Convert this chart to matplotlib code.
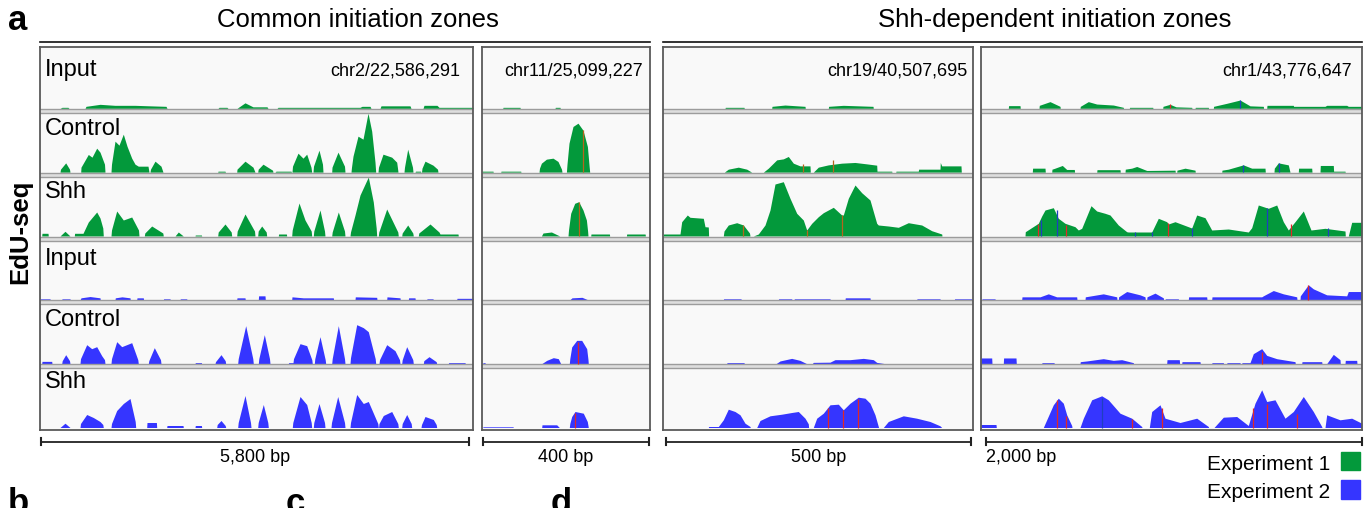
import numpy as np
import matplotlib.pyplot as plt
from matplotlib.lines import Line2D
from matplotlib.patches import Rectangle

plt.rcParams['font.family'] = ['Liberation Sans', 'DejaVu Sans']

W, H = 1371, 508

# ---- panel / track metadata ----
LOCI = ['chr2/22,586,291', 'chr11/25,099,227', 'chr19/40,507,695', 'chr1/43,776,647']
BIN_BP = [13.55, 2.41, 1.64, 5.32]        # bp per coverage bin
N_BINS = [433, 168, 310, 381]             # bins shown per window
SCALE_BP = [5800, 400, 500, 2000]
SCALE_LABELS = ['5,800 bp', '400 bp', '500 bp', '2,000 bp']
TRACKS = ['Input', 'Control', 'Shh', 'Input', 'Control', 'Shh']
GROUPS = ['Common initiation zones', 'Shh-dependent initiation zones']
EXPERIMENTS = ['Experiment 1', 'Experiment 2']

# ---- coverage profiles: (bin, read depth) ----
# window 1 : chr2
C1_IN1 = [(20,0),(22,1),(28,1),(29,0),(45,0),(46,2),(60,4),(75,3),(95,3),(110,2.5),(126,2),(127,0),
          (178,0),(179,1),(187,1),(188,0),(197,0),(205,5.5),(213,1.5),(227,1.5),(228,0),(237,0),(238,1),
          (320,1),(322,2),(330,2),(331,0),(340,0),(341,2.5),(370,2.5),(371,0),(383,0),(384,3),(397,3),
          (399,1),(433,1)]
C1_CT1 = [(20,0),(20.5,3),(25.7,9.3),(29.5,3),(30,0),
          (40.7,0),(41,5),(48.3,17.7),(52,15),(56.7,24),(60,20),(64.5,8),(65,0),
          (71,0),(71.5,8),(75,31),(79,27),(83.3,38),(87,26),(91.7,14),(95,8),(98.3,6),(108,6),(109,0),
          (110,0),(110.5,3),(115,11),(121,6),(123,0),(177.7,0),(178,1),(185,1),(185.5,0),
          (196.7,0),(197,3),(205,11),(213,5),(215,0),(217.7,0),(218.2,3),(223,8),(232.5,2),(233,0),
          (235,0),(236,1),(251,1),(251.5,0),(252,0),(252.5,6),(258,19),(263,14),(266.7,18),(271,5),(271.7,0),
          (273,0),(273.5,6),(279,22),(282.5,8),(283,0),(291.7,0),(292,5),(298,20),(304.5,6),(305,0),
          (311,0),(311.5,5),(313,16),(318,36),(323,33),(328,59),(331.7,41),(335,10),(335.7,0),
          (338,0),(338.5,5),(343,18),(351.7,15),(356.7,10),(357.5,4),(358,0),
          (364,0),(364.5,5),(367.7,23),(372.5,5),(373,0),
          (375,0),(375.5,1),(380.5,1),(381,0),(381.5,0),(382,4),(385,11),(393,7),(397.5,3),(398,0)]
C1_SH1 = [(1.7,0),(2,2.7),(8,2.7),(8.3,0),(20,0),(25,4.7),(30,0),
          (34.3,0),(34.6,2.7),(43,2.7),(48.3,14),(56.7,24),(60,18),(62.8,8),(63.3,0),
          (71,0),(71.5,6),(76.7,25),(83.3,16),(91.7,19),(98.5,6),(99,0),
          (104.3,0),(104.8,3),(111.7,10),(122.8,3),(123.3,0),
          (135,0),(138.3,4),(143.3,0),(155,0),(155.3,1),(161.4,1),(161.7,0),
          (177.7,0),(178.2,4),(185,12),(191.2,4),(191.7,0),(196.7,0),(197.2,5),(205,22),(214.5,5),(215,0),
          (217.7,0),(218.2,5),(221.7,10),(226.2,4),(226.7,0),
          (238.3,0),(238.6,2),(246.4,2),(246.7,0),(251.7,0),(252.2,6),(259,33),(265,16),(271.2,5),(271.7,0),
          (273.3,0),(273.8,5),(280,26),(284.5,5),(285,0),(291.7,0),(292.2,4),(298.3,24),(304.5,5),(305,0),
          (310,0),(310.5,4),(315,21),(320,41),(328.3,59),(333.3,34),(336.2,8),(336.7,0),
          (338.3,0),(338.8,4),(346.7,27),(357.8,4),(358.3,0),(361.7,0),(362.2,3),(367.7,11),(372.8,3),(373.3,0),
          (378.3,0),(378.8,3),(390,12),(399,4),(400,2),(418,2),(418.3,0)]
C1_IN2 = [(0,1),(10,1),(10.3,0),(21.7,0),(22,1),(30,1),(30.3,0),
          (40,0),(41,2),(50,3.3),(60,2),(60.3,0),(75,0),(75.3,2),(82,3),(90,2),(90.3,0),
          (96.7,0),(97,2),(103.3,2),(103.6,0),(123.3,0),(123.6,1),(130,1),(130.3,0),
          (140,0),(140.3,1),(146.7,1),(147,0),(196.7,0),(197,2),(205,2),(205.3,0),
          (218.3,0),(218.6,4),(225,4),(225.3,0),(251.7,0),(252,3),(263.3,2),(293.3,2),(293.6,0),
          (315,0),(315.3,3),(336.7,2.5),(337,0),(346.7,0),(347,3),(360,2),(360.3,0),
          (368.3,0),(368.6,2),(375,2),(375.3,0),(386.7,0),(387,1),(393,1),(393.3,0),
          (416.7,0),(417,1.5),(433,1.5)]
C1_CT2 = [(1.7,0),(2,2.3),(11.7,2.3),(12,0),(21.7,0),(22.2,3),(25.7,9),(29.5,3),(30,0),
          (40,0),(40.5,5),(46.7,19),(51.7,15),(56.7,17),(61.7,8),(64.5,4),(65,0),
          (71,0),(71.5,5),(76.7,22),(81.7,17),(91.7,21),(97.8,4),(98.3,0),
          (108.3,0),(108.8,3),(114.3,16),(120.5,4),(121,0),
          (155,0),(155.3,1),(161.4,1),(161.7,0),(175,0),(175.5,2),(181,9),(185.2,3),(185.7,0),
          (197.7,0),(198.2,5),(205.7,38),(212.8,5),(213.3,0),(218.3,0),(218.8,5),(224.3,29),(229.5,5),(230,0),
          (248.3,0),(248.6,1),(253,1),(253.5,5),(260,20),(266.7,18),(271.8,4),(272.3,0),
          (274.3,0),(274.8,5),(280,27),(285.2,4),(285.7,0),(291.7,0),(292.2,5),(298.3,38),(304.5,5),(305,0),
          (310,0),(310.5,6),(316.7,39),(323.3,36),(328.3,32),(335.2,5),(335.7,0),
          (339,0),(339.5,4),(346.7,19),(355,13),(359.5,4),(360,0),(361.7,0),(362.2,4),(366.7,17),(372.8,4),(373.3,0),
          (383.3,0),(383.8,3),(389,7),(396.2,2),(396.7,0),(408.3,0),(408.6,1),(425,1),(425.3,0)]
C1_SH2 = [(20,0),(25,4.3),(30,0),(40,0),(40.5,4),(46.7,13),(53.3,10),(60,6),(62.8,3),(63.3,0),
          (71,0),(71.5,4),(76.7,17),(83.3,24),(90,29),(95.2,6),(95.7,0),(106.7,0),(107,5),(116.4,5),(116.7,0),
          (126.7,0),(127,2),(143,2),(143.3,0),(155,0),(155.3,2),(161.4,2),(161.7,0),
          (176.7,0),(177.2,3),(181,7),(185.2,2),(185.7,0),(197.7,0),(198.2,5),(205,32),(210.5,5),(211,0),
          (217.7,0),(218.2,5),(223.3,23),(227.8,5),(228.3,0),
          (252.3,0),(252.8,5),(260,31),(266.7,23),(271.2,5),(271.7,0),(273.3,0),(273.8,5),(279,24),(284.5,5),(285,0),
          (291,0),(291.5,5),(297.7,31),(304.5,5),(305,0),
          (310,0),(310.5,5),(316.7,33),(323.3,24),(328.3,26),(337.8,4),(338.3,0),
          (338.6,0),(339,4),(343.3,12),(351.7,16),(357.8,4),(358.3,0),(361.7,0),(362.2,4),(366.7,13),(371.2,4),(371.7,0),
          (381,0),(381.5,3),(385,11),(393.3,8),(396.2,3),(396.7,0)]

# window 2 : chr11
C2_IN1 = [(20.7,0),(21,1),(38,1),(38.3,0),(73,0),(73.3,1),(78,1),(78.3,0)]
C2_CT1 = [(0,1),(11,1),(11.3,0),(18.7,0),(19,1),(38.7,1),(39,0),
          (57,0),(57.5,4),(59.4,9),(64.4,13),(71,14),(76,10.7),(79.5,3),(80,0),
          (84.4,0),(85,8),(87,29),(91,45.7),(96,49),(101,42),(105.4,25.7),(107.2,5),(107.7,0)]
C2_SH1 = [(59.4,0),(61,3),(69.4,4),(77.7,0),
          (86,0),(86.5,6),(88.7,22.7),(92.7,32.7),(96.7,34.3),(101,26),(104.4,16),(105.6,5),(106,0),
          (108.7,0),(109,2),(127.4,2),(127.7,0),(144.4,0),(144.7,2),(163.1,2),(163.4,0)]
C2_IN2 = [(87.7,0),(90,2),(100,2.5),(106,0)]
C2_CT2 = [(0.7,0),(1,1),(3,1),(3.3,0),(59.7,0),(64.7,3.3),(71.3,6),(76.3,5),(78.7,0),
          (87.3,0),(87.8,5),(89.7,16.7),(94.7,23.3),(99.7,23.3),(104.7,15),(106,4),(106.3,0)]
C2_SH2 = [(0.7,0),(1,0.7),(31,0.7),(31.3,0),(59.7,0),(60,2.7),(74.7,2.7),(77.3,0),
          (87.3,0),(87.8,4),(89.7,11),(93,16),(101.3,14.3),(105.3,6),(106.3,0)]

# window 3 : chr19
C3_IN1 = [(62,0),(62.3,1),(81,1),(81.3,0),(108.7,0),(109,2),(122,3.3),(142,2),(142.3,0),
          (165.3,0),(165.6,2),(180.3,3),(210,2),(210.3,0)]
C3_CT1 = [(61.3,0),(65.3,3),(75.3,5),(83.7,3),(88.7,0),
          (100.3,0),(105.3,4),(113.7,12.3),(120.3,13.3),(125.3,15.7),(130.3,9),(137,6.3),(147,6.3),(147.3,0),
          (150.3,0),(155.3,5),(165.3,7.3),(178.7,9),(192,9.7),(203.7,8.3),(213.7,7),(214,1),(228.7,1),(229,0),
          (232.7,0),(233,1),(255.3,1),(255.6,3),(277,3),(277.3,9.7),(278.7,6.3),(298,6.3),(298.3,0)]
C3_SH1 = [(0.3,0),(0.6,2),(17,2),(18.7,14.3),(24.3,21),(27,18.7),(40.3,17.7),(42,9.3),(45.3,9),(45.6,0),
          (60.3,0),(61,5),(65.3,11),(73.7,13.3),(80.3,11),(86.5,3),(87,0),
          (90.3,0),(95.3,2),(102,11),(107,26),(112,52),(120.3,54.3),(127,37.7),(133.7,22.7),(140.3,16),(143.7,6),
          (148.7,12.7),(155.3,19.3),(160.3,23.3),(170.3,28.7),(178.7,21),(180.3,21),
          (185.3,37.7),(192,51),(198.7,43.3),(207,36),(213.7,12.7),(215.3,11),
          (225.3,10),(235.3,8.7),(245.3,13.3),(258.7,11),(268.7,5.3),(278.7,2),(279,0)]
C3_IN2 = [(60.3,0),(60.6,1),(78,1),(78.3,0),(115.3,0),(115.6,1),(128.7,1),(129,0),
          (131,0),(131.3,1),(167,1),(167.3,0),(182,0),(182.3,2),(207,2),(207.3,0),
          (253.7,0),(254,1),(277,1),(277.3,0),(291.3,0),(291.6,1),(308.7,1),(309,0)]
C3_CT2 = [(63.7,0),(64,1),(81,1),(81.3,0),(113,0),(117,2.7),(128.7,5.3),(137,3.3),(143.7,0),
          (149.3,0),(150.3,1.3),(167,1.5),(172,4),(187,4),(200.3,5.3),(210.3,4),(213.7,1.3),(222,0)]
C3_SH2 = [(45.3,0),(45.6,1),(55.3,1),(60.3,7.7),(65.3,18.3),(72,16),(77,12.7),(82,4.3),(87,1),(87.3,0),
          (93.7,0),(97,7),(107,11.7),(118.7,13.3),(128.7,15),(135.3,16),(142,9.3),(145.3,3.7),(145.6,0),
          (150.3,0),(153.7,9.3),(160.3,14.3),(167,22.7),(175.3,23.3),(180.3,17.7),
          (187,24.3),(195.3,30.3),(202,29.3),(207,24.3),(212,12.7),(215.3,1),(215.6,0),
          (220.3,0),(225.3,6),(240.3,11.7),(253.7,9.3),(267,6),(277,1.7),(278.7,0)]

# window 4 : chr1
C4_IN1 = [(27.3,0),(27.6,2.7),(39,2.7),(39.3,0),(58,0),(58.3,3),(69,6.7),(79,2),(79.3,0),
          (99,0),(99.3,2),(107.3,6.7),(115.7,4.3),(132.3,3.3),(142.3,1),(142.6,0),
          (148.3,0),(148.6,1),(171.7,1),(172,0),(181.7,0),(182,2),(189,4),(195,1.5),(210.7,1),(211,0),
          (214,0),(214.3,1),(227.3,1),(227.6,0),
          (232.3,0),(232.6,2),(245.7,5),(259,8.3),(269,2.5),(282.3,2),(282.6,0),
          (285.7,0),(286,3),(312.3,3),(312.6,2),(344,2),(345.7,3),(365.7,3),(367.3,2),(380.7,2)]
C4_CT1 = [(51.3,0),(51.6,4),(64,4),(64.3,0),(70.7,0),(71,3),(74,4),(81.3,6.7),(85.7,2.7),(93.3,2.7),(93.6,0),
          (115.7,0),(116,2.5),(139,2.5),(139.3,0),
          (144,0),(144.3,3),(150.7,4),(155.7,5.7),(165.7,1.7),(167.3,1.7),(194,2),(194.3,0),
          (195.7,0),(196,2),(204,4),(214,2),(214.3,0),
          (240.7,0),(241,2),(247.3,3),(262.3,7.3),(270.7,4),(284,4),(284.3,0),
          (293,0),(293.3,4),(297.3,9.3),(307.3,7.3),(309,0),(317.3,0),(317.6,4),(330.7,4),(331,0),
          (339,0),(339.3,6.7),(352.3,6.7),(352.6,1),(364,1),(364.3,0)]
C4_SH1 = [(44,0),(44.3,4.3),(57.3,12.7),(60.7,20),(64,26),(72.3,28.3),(77.3,17.7),(84,12.7),(94,9.3),(97.3,6),
          (100.7,7.7),(110,30.3),(115.7,25),(124,22.7),(129,21),(137.3,11),(145.7,4.3),(147.3,4),
          (170.7,4),(177.3,17.7),(185.7,14.3),(187.3,12),(194,14.3),(207.3,9.3),(210.7,8),(215.7,21),
          (224,18.3),(230.7,6),(247.3,7),(267.3,4),(270.7,8.3),(277.3,31),(287.3,27.7),(295.7,31),
          (302.3,14.3),(307.3,6),(314,14.3),(322.3,25),(327.3,12.7),(330,6),(344,7.7),(364,5),(364.3,0),
          (367.3,0),(370.7,13.7),(380.7,13.7)]
C4_IN2 = [(0.7,0),(1,1),(14,1),(14.3,0),(40.7,0),(41,3),(59,3),(67.3,6),(75.7,3),(95.7,3),(96,0),
          (104,0),(104.3,3),(122.3,6),(135.7,3),(136,0),(137.3,0),(137.6,3),(145.7,8.3),(159,5),(164,3),(164.3,0),
          (165.7,0),(166,3),(174,6.7),(182.3,2),(182.6,0),(184,0),(184.3,1),(197.3,1),(197.6,0),
          (207.3,0),(207.6,3),(225.7,3),(226,0),
          (230.7,0),(231,3),(280.7,3),(282.3,4),(292.3,9.3),(302.3,6),(315.7,3),(316,0),
          (319,0),(319.3,4),(327.3,15),(332.3,11),(345.7,5),(365.7,4),(367.3,8.3),(380.7,8.3)]
C4_CT2 = [(0,5.7),(10.7,5.7),(11,0),(22.3,0),(22.6,5.7),(35,5.7),(35.3,0),
          (60.7,0),(61,1),(73,1),(73.3,0),
          (99,0),(99.3,2),(105.7,2.7),(122.3,5),(132.3,3.3),(140.7,4),(152.3,1),(152.6,0),
          (185.7,0),(186,4),(198.3,4),(198.6,0),(200.7,0),(201,2),(219,2),(219.3,0),
          (230.7,0),(231,1),(242.3,1),(242.6,0),(245.7,0),(246,1),(259,1),(259.3,0),
          (260.7,0),(261,1),(269,1),(272.3,10),(280.7,15),(285.7,8.3),(295.7,5),(314,2),(314.3,0),
          (320.7,0),(321,2),(340.7,2),(341,0),(345.7,0),(352.3,9.3),(359,4),(359.3,0),
          (364,0),(364.3,3.3),(375.7,3.3),(376,0)]
C4_SH2 = [(0,3),(15,3),(15.3,0),
          (62.3,0),(65.7,7.7),(72.3,22.7),(77.3,29.3),(82.3,24.3),(85.7,12.7),(90.7,2),(91,0),
          (99,0),(102.3,9.3),(110.7,27.7),(120.7,31.7),(127.3,27.7),(139,14.3),(150.7,9.3),(160.7,1),(161,0),
          (168.3,0),(170.7,16),(179,22.7),(184,9.3),(199,5),(215.7,9.3),(227.3,1),(227.6,0),
          (233,0),(242.3,10.3),(255.7,11),(267.3,2),
          (274,24.3),(280.7,37.7),(285.7,26),(294,27.7),(304,9.3),(312.3,16),(322.3,31),(332.3,16),(340.7,1),(341,0),
          (344,0),(345.7,12.7),(359,7.7),(370.7,9.3),(380.7,4.3)]

# mismatch ticks: (window, track, bin, depth, colour)
RED, NAVY, BROWN = '#e02828', '#1f3fc0', '#b5651d'
MISMATCH = [
    (1, 1, 100.7, 42, BROWN), (1, 2, 96.7, 34, BROWN), (1, 4, 96, 22, RED), (1, 5, 93, 15, RED),
    (2, 1, 140, 8, BROWN), (2, 1, 170, 12, BROWN), (2, 2, 80.3, 11, BROWN), (2, 2, 144.3, 6, BROWN),
    (2, 2, 179.3, 21, BROWN), (2, 5, 165.3, 20, RED), (2, 5, 179.7, 18, RED), (2, 5, 194.7, 29, RED),
    (3, 0, 189, 4, RED), (3, 0, 259, 8, NAVY), (3, 1, 262.3, 7, NAVY), (3, 1, 298, 9, NAVY),
    (3, 2, 57.3, 12, RED), (3, 2, 60, 16, NAVY), (3, 2, 75.7, 26, NAVY), (3, 2, 84.7, 11, RED),
    (3, 2, 154, 4, NAVY), (3, 2, 170.7, 4, NAVY), (3, 2, 186.7, 13, RED), (3, 2, 210.7, 8, NAVY),
    (3, 2, 286.3, 28, NAVY), (3, 2, 310, 12, RED), (3, 2, 346.7, 8, NAVY),
    (3, 3, 327.3, 15, RED), (3, 4, 280.7, 12, RED),
    (3, 5, 75.7, 28, RED), (3, 5, 85, 12, RED), (3, 5, 120.7, 30, NAVY), (3, 5, 150.7, 9, RED),
    (3, 5, 180.7, 20, RED), (3, 5, 271.7, 20, RED), (3, 5, 286.3, 24, RED), (3, 5, 315.7, 14, RED),
]

WINDOWS = [
    [C1_IN1, C1_CT1, C1_SH1, C1_IN2, C1_CT2, C1_SH2],
    [C2_IN1, C2_CT1, C2_SH1, C2_IN2, C2_CT2, C2_SH2],
    [C3_IN1, C3_CT1, C3_SH1, C3_IN2, C3_CT2, C3_SH2],
    [C4_IN1, C4_CT1, C4_SH1, C4_IN2, C4_CT2, C4_SH2],
]

GREEN = '#03993b'
BLUE = '#3535ff'
TRACK_COLORS = [GREEN] * 3 + [BLUE] * 3

# ---- layout (pixels) ----
PANEL_X = [(40, 473), (482, 650), (663, 973), (981, 1362)]
TOP, BOT = 47, 430
TRACK_H = (BOT - TOP) / 6.0
BASE_PAD = 2.5
LABEL_BASE = [76, 135, 198, 265, 326, 388]
LOCUS_RIGHT = [460, 643, 967, 1352]
BAR_START = [1, 1, 3, 5]


def fx(x):
    return x / W


def fy(y):
    return 1 - y / H


def track_base(k):
    return (BOT - TOP) - TRACK_H * (k + 1) + BASE_PAD


fig = plt.figure(figsize=(W / 100, H / 100), dpi=100)
axes = []

for p, (x0, x1) in enumerate(PANEL_X):
    ax = fig.add_axes([fx(x0), fy(BOT), (x1 - x0) / W, (BOT - TOP) / H])
    axes.append(ax)
    ax.set_facecolor('#f9f9f9')
    span = N_BINS[p] * BIN_BP[p]
    ax.set_xlim(0, span)
    ax.set_ylim(0, BOT - TOP)
    ax.set_xticks([])
    ax.set_yticks([])
    for s in ax.spines.values():
        s.set_color('#5a5a5a')
        s.set_linewidth(1.3)

    for k in range(6):
        base = track_base(k)
        pos, depth = zip(*WINDOWS[p][k])
        x = np.array(pos) * BIN_BP[p]
        ax.fill_between(x, base, base + np.array(depth), color=TRACK_COLORS[k], lw=0)
        if k > 0:
            yb = (BOT - TOP) - TRACK_H * k
            ax.axhspan(yb - 2, yb + 2, color='#dedede', lw=0)
            ax.axhline(yb - 2, color='#9c9c9c', lw=1)
            ax.axhline(yb + 2, color='#9c9c9c', lw=1)

    # scale bar below panel
    tr = ax.get_xaxis_transform()
    b0 = BAR_START[p] * BIN_BP[p]
    b1 = b0 + SCALE_BP[p]
    yb = (BOT - 441.7) / (BOT - TOP)
    dy = 3.4 / (BOT - TOP)
    ax.plot([b0, b1], [yb, yb], color='#222222', lw=1.3, transform=tr, clip_on=False)
    for bx in (b0, b1):
        ax.plot([bx, bx], [yb - dy, yb + dy], color='#222222', lw=1.5, transform=tr, clip_on=False)
    ylab = (BOT - 462) / (BOT - TOP)
    if p == 3:
        ax.text(b0, ylab, SCALE_LABELS[p], transform=tr, ha='left', va='baseline', fontsize=13)
    else:
        ax.text((b0 + b1) / 2, ylab, SCALE_LABELS[p], transform=tr, ha='center', va='baseline', fontsize=13)

    fig.text(fx(LOCUS_RIGHT[p]), fy(76), LOCI[p], ha='right', va='baseline', fontsize=13)

for p, k, b, d, c in MISMATCH:
    base = track_base(k)
    axes[p].vlines(b * BIN_BP[p], base, base + d, color=c, lw=0.9)

for k, name in enumerate(TRACKS):
    fig.text(fx(45), fy(LABEL_BASE[k]), name, ha='left', va='baseline', fontsize=17)

# group titles with rules
fig.text(fx(358), fy(27), GROUPS[0], ha='center', va='baseline', fontsize=18.5)
fig.text(fx(1055), fy(27), GROUPS[1], ha='center', va='baseline', fontsize=18.5)
fig.add_artist(Line2D([fx(40), fx(650)], [fy(41.5)] * 2, color='#111111', lw=1.2))
fig.add_artist(Line2D([fx(663), fx(1362)], [fy(41.5)] * 2, color='#111111', lw=1.2))

# panel letters (b-d are cut by the bottom edge, as in the source figure)
fig.text(fx(8), fy(30), 'a', fontsize=25, fontweight='bold', va='baseline')
fig.text(fx(8), fy(513), 'b', fontsize=25, fontweight='bold', va='baseline')
fig.text(fx(286), fy(513), 'c', fontsize=25, fontweight='bold', va='baseline')
fig.text(fx(551), fy(513), 'd', fontsize=25, fontweight='bold', va='baseline')
fig.text(fx(20), fy(232), 'EdU-seq', rotation=90, fontsize=18.5, fontweight='bold',
         ha='center', va='center')

# legend
for i, (lab, col) in enumerate(zip(EXPERIMENTS, [GREEN, BLUE])):
    ybase = 470 + 28.5 * i
    fig.text(fx(1330), fy(ybase), lab, ha='right', va='baseline', fontsize=15)
    fig.add_artist(Rectangle((fx(1341), fy(ybase)), 19 / W, 18.5 / H, color=col,
                             transform=fig.transFigure))

fig.savefig('out.png', dpi=100)
